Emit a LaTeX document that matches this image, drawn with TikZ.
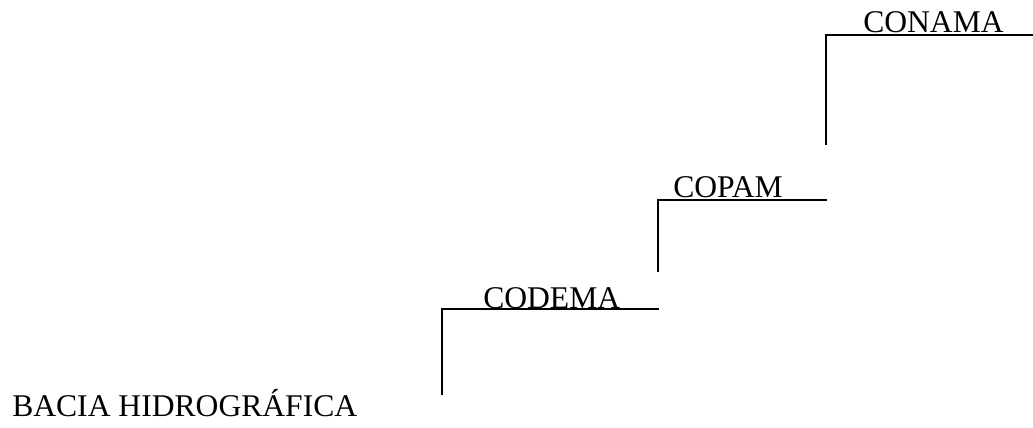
\documentclass[tikz,border=0pt]{standalone}
\usepackage{fontspec}
\setmainfont{Liberation Serif}
\begin{document}
\begin{tikzpicture}[x=0.75pt,y=-0.75pt,
  degrau/.style={color=black,line width=1.5pt},
  orgao/.style={anchor=base west,inner sep=0pt,font=\fontsize{23.7}{28}\selectfont}]
\useasboundingbox (0,0) rectangle (1033,428);
% textos
\node[orgao] (bacia) at (12,416) {BACIA HIDROGRÁFICA};
\node[orgao] (codema) at (483,308) {CODEMA};
\node[orgao] (copam) at (673,197) {COPAM};
\node[orgao] (conama) at (863,33) {CONAMA};
% degraus
\coordinate (p1) at (442,395);
\coordinate (q1) at (442,309);
\coordinate (r1) at (659,309);
\coordinate (p2) at (658,272);
\coordinate (q2) at (658,200);
\coordinate (r2) at (827,200);
\coordinate (p3) at (826,145);
\coordinate (q3) at (826,35);
\coordinate (r3) at (1033,35);
\draw[degrau] (p1) -- (q1) -- (r1);
\draw[degrau] (p2) -- (q2) -- (r2);
\draw[degrau] (p3) -- (q3) -- (r3);
\end{tikzpicture}
\end{document}
